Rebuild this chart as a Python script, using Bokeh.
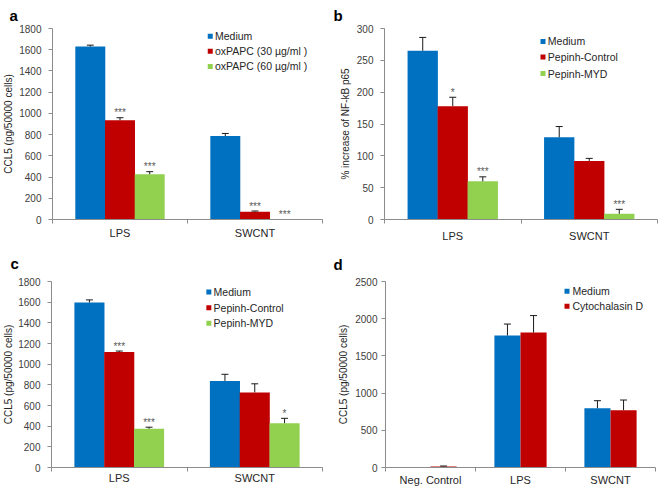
import math
from bokeh.plotting import figure
from bokeh.models import Range1d, FixedTicker, ColumnDataSource
from bokeh.layouts import column, row
from bokeh.embed import file_html
from bokeh.resources import INLINE
from bokeh.core.properties import value

# ---------------- data ----------------
cats_a = ["LPS", "SWCNT"]
yticks_a = [0, 200, 400, 600, 800, 1000, 1200, 1400, 1600, 1800]
a_medium = [1630, 787]
a_medium_err = [13, 24]
a_ox30 = [935, 74]
a_ox30_err = [24, 6]
a_ox60 = [427, 0]
a_ox60_err = [24, 0]
a_medium_stars = ["", ""]
a_ox30_stars = ["***", "***"]
a_ox60_stars = ["***", "***"]

cats_b = ["LPS", "SWCNT"]
yticks_b = [0, 50, 100, 150, 200, 250, 300]
b_medium = [265, 129]
b_medium_err = [21, 17]
b_ctrl = [178, 92]
b_ctrl_err = [14, 4]
b_myd = [60, 9]
b_myd_err = [7, 7]
b_medium_stars = ["", ""]
b_ctrl_stars = ["*", ""]
b_myd_stars = ["***", "***"]

cats_c = ["LPS", "SWCNT"]
yticks_c = [0, 200, 400, 600, 800, 1000, 1200, 1400, 1600, 1800]
c_medium = [1597, 838]
c_medium_err = [25, 64]
c_ctrl = [1117, 727]
c_ctrl_err = [10, 83]
c_myd = [375, 429]
c_myd_err = [15, 47]
c_medium_stars = ["", ""]
c_ctrl_stars = ["***", ""]
c_myd_stars = ["***", "*"]

cats_d = ["Neg. Control", "LPS", "SWCNT"]
yticks_d = [0, 500, 1000, 1500, 2000, 2500]
d_medium = [0, 1774, 797]
d_medium_err = [0, 154, 101]
d_cyto = [15, 1813, 770]
d_cyto_err = [5, 229, 137]
d_medium_stars = ["", "", ""]
d_cyto_stars = ["", "", ""]

# ---------------- style ----------------
FONT = "Liberation Sans"
BLUE = "#0070C0"
RED = "#C00000"
GREEN = "#92D050"
AXIS = "#8c8c8c"
TXT = "#262626"


def panel(width, height, borders, cats, yticks, series, offsets, bar_w,
          letter, letter_offset, letter_standoff, ylabel, ylabel_standoff,
          leg_left, leg_rows, leg_gap, xlab_standoff, ytick_standoff):
    bl, br, bt, bb = borders
    n = len(cats)
    ymax = yticks[-1]
    p = figure(width=width, height=height,
               x_range=Range1d(-0.5, n - 0.5),
               y_range=Range1d(yticks[0], ymax),
               output_backend="svg", toolbar_location=None,
               min_border_left=bl, min_border_right=br,
               min_border_top=bt, min_border_bottom=bb,
               title=letter)
    p.xgrid.visible = False
    p.ygrid.visible = False
    p.outline_line_color = None
    p.background_fill_color = "white"
    p.border_fill_color = "white"

    p.title.text_font = FONT
    p.title.text_font_size = "15px"
    p.title.text_font_style = "bold"
    p.title.text_color = "black"
    p.title.align = "left"
    p.title.vertical_align = "top"
    p.title.offset = letter_offset
    p.title.standoff = letter_standoff

    frame_w = width - bl - br
    frame_h = height - bt - bb
    cat_px = frame_w / n

    def fx(px):  # pixels from frame left -> data x
        return -0.5 + px / cat_px

    def fy(px):  # pixels below frame top -> data y
        return ymax - px * ymax / frame_h

    cap = 3.5 / cat_px

    for k, ((name, color, vals, errs, stars), off) in enumerate(zip(series, offsets)):
        xs = [i + off for i in range(n)]
        src = ColumnDataSource(dict(x=xs, top=vals,
                                    yt=[v + e for v, e in zip(vals, errs)],
                                    stars=stars))
        p.vbar(x="x", top="top", bottom=0, width=bar_w, source=src,
               fill_color=color, line_color=None)
        ex = [x for x, e in zip(xs, errs) if e > 0]
        ev = [v for v, e in zip(vals, errs) if e > 0]
        et = [v + e for v, e in zip(vals, errs) if e > 0]
        esrc = ColumnDataSource(dict(x=ex, v=ev, t=et,
                                     xl=[x - cap for x in ex],
                                     xr=[x + cap for x in ex]))
        p.segment(x0="x", y0="v", x1="x", y1="t", source=esrc,
                  line_color="#1a1a1a", line_width=1)
        p.segment(x0="xl", y0="t", x1="xr", y1="t", source=esrc,
                  line_color="#1a1a1a", line_width=1)
        p.text(x="x", y="yt", text="stars", source=src,
               text_font=value(FONT), text_font_size="10px",
               text_color="#595959", text_align="center",
               text_baseline="alphabetic", y_offset=-5)

        # legend entry (square + label)
        ly = fy(leg_rows[k])
        p.scatter(x=[fx(leg_left + 2.5)], y=[ly], marker="square", size=5,
                  fill_color=color, line_color=None)
        p.text(x=[fx(leg_left + 5 + leg_gap)], y=[ly], text=[name],
               text_font=value(FONT), text_font_size="10.5px",
               text_color=TXT, text_align="left", text_baseline="middle")

    # x axis
    xa = p.xaxis[0]
    xa.ticker = FixedTicker(ticks=list(range(n)),
                            minor_ticks=[i - 0.5 for i in range(n + 1)])
    xa.major_label_overrides = {i: c for i, c in enumerate(cats)}
    xa.major_tick_out = 0
    xa.major_tick_in = 0
    xa.minor_tick_out = 4
    xa.minor_tick_in = 0
    xa.minor_tick_line_color = AXIS
    xa.axis_line_color = AXIS
    xa.major_label_text_font = FONT
    xa.major_label_text_font_size = "11px"
    xa.major_label_text_color = TXT
    xa.major_label_standoff = xlab_standoff

    # y axis
    ya = p.yaxis[0]
    ya.ticker = FixedTicker(ticks=yticks)
    ya.major_tick_out = 4
    ya.major_tick_in = 0
    ya.minor_tick_line_color = None
    ya.major_tick_line_color = AXIS
    ya.axis_line_color = AXIS
    ya.major_label_text_font = FONT
    ya.major_label_text_font_size = "10px"
    ya.major_label_text_color = "#404040"
    ya.major_label_standoff = ytick_standoff
    ya.axis_label = ylabel
    ya.axis_label_text_font = FONT
    ya.axis_label_text_font_size = "10px"
    ya.axis_label_text_font_style = "normal"
    ya.axis_label_text_color = TXT
    ya.axis_label_standoff = ylabel_standoff
    return p


off3 = [-0.22, 0.0, 0.22]
off2 = [-0.145, 0.145]

pa = panel(330, 244, (49, 8, 28, 21), cats_a, yticks_a,
           [("Medium", BLUE, a_medium, a_medium_err, a_medium_stars),
            ("oxPAPC (30 µg/ml )", RED, a_ox30, a_ox30_err, a_ox30_stars),
            ("oxPAPC (60 µg/ml )", GREEN, a_ox60, a_ox60_err, a_ox60_stars)],
           off3, 0.222, "a", -43, 6, "CCL5 (pg/50000 cells)", 2,
           157, [8, 23.3, 38.7], 2.3, 3, 7)

pb = panel(330, 244, (54, 3, 28, 24), cats_b, yticks_b,
           [("Medium", BLUE, b_medium, b_medium_err, b_medium_stars),
            ("Pepinh-Control", RED, b_ctrl, b_ctrl_err, b_ctrl_stars),
            ("Pepinh-MYD", GREEN, b_myd, b_myd_err, b_myd_stars)],
           off3, 0.222, "b", -51, 6, "% increase of NF-kB p65", 3,
           156, [13, 28.7, 45.3], 2.3, 6, 7)

pc = panel(330, 244, (49, 8, 37, 18), cats_c, yticks_c,
           [("Medium", BLUE, c_medium, c_medium_err, c_medium_stars),
            ("Pepinh-Control", RED, c_ctrl, c_ctrl_err, c_ctrl_stars),
            ("Pepinh-MYD", GREEN, c_myd, c_myd_err, c_myd_stars)],
           off3, 0.222, "c", -41, 16, "CCL5 (pg/50000 cells)", 1,
           156, [10.7, 26.7, 42.3], 2.3, 0, 7)

pd_ = panel(330, 244, (55, 5, 35, 19), cats_d, yticks_d,
            [("Medium", BLUE, d_medium, d_medium_err, d_medium_stars),
             ("Cytochalasin D", RED, d_cyto, d_cyto_err, d_cyto_stars)],
            off2, 0.29, "d", -52, 14, "CCL5 (pg/50000 cells)", 3,
            179, [10, 25.3], 3, 2, 4)

layout = column(row(pa, pb), row(pc, pd_))
open("out.html", "w").write(file_html(layout, INLINE))
